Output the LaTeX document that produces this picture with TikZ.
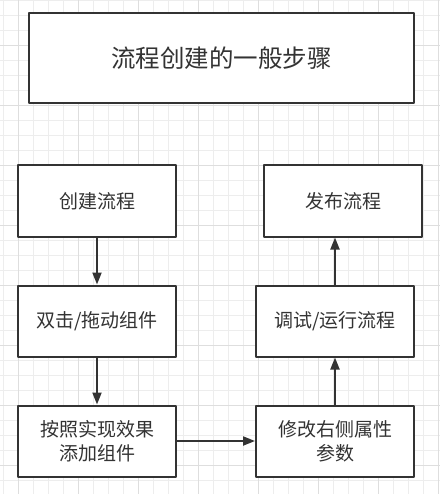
\documentclass[tikz,border=0pt]{standalone}
\usepackage{fontspec}
\setmainfont{Noto Sans CJK SC}
\usetikzlibrary{arrows.meta}
\definecolor{inkgray}{HTML}{333333}
\definecolor{gridlight}{HTML}{EDEDED}
\definecolor{griddark}{HTML}{DEDEDE}
\begin{document}
\begin{tikzpicture}[x=1pt, y=-1pt, line join=round,
    stepbox/.style={draw=inkgray, line width=2pt, fill=white, text=inkgray,
      minimum width=158pt, minimum height=71pt, align=center,
      font=\fontsize{19}{24}\selectfont},
    flow/.style={draw=inkgray, line width=2pt, -{Triangle[length=12pt,width=9pt]}}]
    % Canvas and background grid
    \useasboundingbox (0,0) rectangle (440,494);
    \fill[white] (0,0) rectangle (440,494);
    \foreach \x in {3.3,18.3,...,440} {
      \draw[gridlight, line width=0.8pt] (\x,0) -- (\x,494);
    }
    \foreach \y in {0,15,...,494} {
      \draw[gridlight, line width=0.8pt] (0,\y) -- (440,\y);
    }
    \foreach \x in {18.3,78.3,...,440} {
      \draw[griddark, line width=0.8pt] (\x,0) -- (\x,494);
    }
    \foreach \y in {45,105,...,494} {
      \draw[griddark, line width=0.8pt] (0,\y) -- (440,\y);
    }

    % Title
    \node[stepbox, minimum width=385pt, minimum height=90pt,
      font=\fontsize{24.5}{30}\selectfont] (title) at (221.5,58) {流程创建的一般步骤};

    % Left column
    \node[stepbox] (create) at (97,201) {创建流程};
    \node[stepbox] (drag) at (97,321) {双击/拖动组件};
    \node[stepbox] (add) at (97,441) {按照实现效果\\添加组件};

    % Right column
    \node[stepbox] (publish) at (343,201) {发布流程};
    \node[stepbox] (debug) at (335,321) {调试/运行流程};
    \node[stepbox] (modify) at (335,441) {修改右侧属性\\参数};

    % Arrows
    \draw[flow] (create) -- (drag);
    \draw[flow] (drag) -- (add);
    \draw[flow] (add) -- (modify);
    \draw[flow] (modify) -- (debug);
    \draw[flow] (debug.north) -- (debug.north |- publish.south);
\end{tikzpicture}
\end{document}
